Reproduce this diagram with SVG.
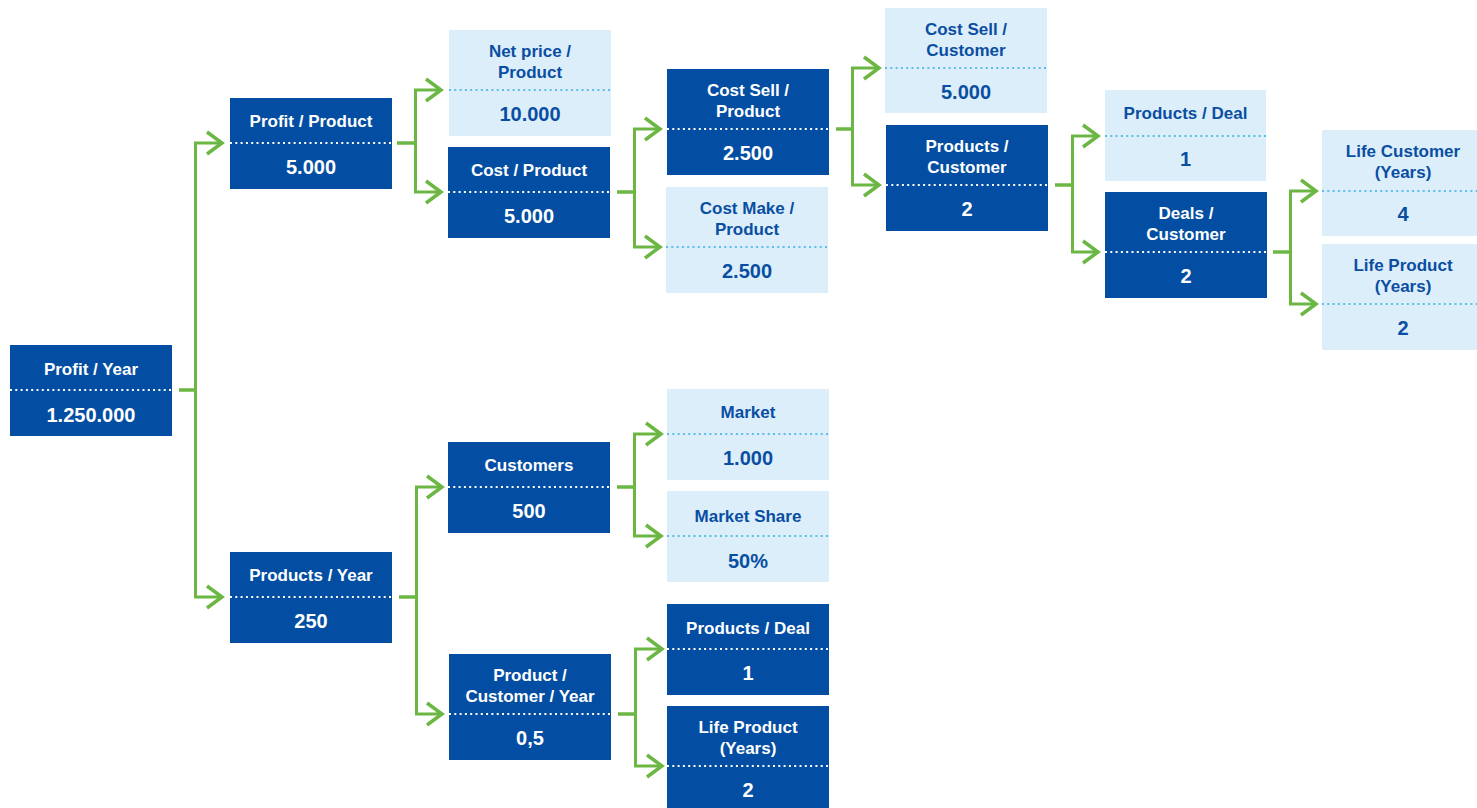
<svg xmlns="http://www.w3.org/2000/svg" width="1477" height="808" viewBox="0 0 1477 808">
<style>
.d rect{fill:#034ea2}
.l rect{fill:#ddeefb}
text{font-family:"Liberation Sans",Arial,sans-serif;font-weight:bold;text-anchor:middle}
.d text{fill:#ffffff}
.l text{fill:#0a4ea2}
.t{font-size:17px}
.v{font-size:20px}
.d line{stroke:#ffffff;stroke-width:2;stroke-dasharray:2 3.3}
.l line{stroke:#5bbde9;stroke-width:2;stroke-dasharray:2 3.3}
#connectors path{fill:none;stroke:#6cb744;stroke-width:3;stroke-linejoin:miter;marker-end:url(#arrow)}
</style>
<defs>
<marker id="arrow" markerUnits="userSpaceOnUse" markerWidth="22" markerHeight="30" refX="17" refY="14" orient="auto" overflow="visible">
<path d="M2,3 L17,14 L2,25" fill="none" stroke="#6cb744" stroke-width="3.5" stroke-linejoin="miter"/>
</marker>
</defs>
<rect width="1477" height="808" fill="#ffffff"/>
<g id="connectors">
<path d="M179,390 H195.5 V143 H222"/>
<path d="M179,390 H195.5 V597 H222"/>
<path d="M397,143 H415.5 V90 H441"/>
<path d="M397,143 H415.5 V192 H441"/>
<path d="M617,192 H634.5 V129 H660"/>
<path d="M617,192 H634.5 V247 H660"/>
<path d="M836,129 H852.5 V68 H879"/>
<path d="M836,129 H852.5 V185 H879"/>
<path d="M1055,185 H1072.5 V136 H1098"/>
<path d="M1055,185 H1072.5 V252 H1098"/>
<path d="M1273,252 H1290.5 V191 H1316"/>
<path d="M1273,252 H1290.5 V304 H1316"/>
<path d="M399,597 H416.5 V487 H442"/>
<path d="M399,597 H416.5 V714 H442"/>
<path d="M617,487 H634.5 V434 H661"/>
<path d="M617,487 H634.5 V536 H661"/>
<path d="M618,714 H635.5 V649 H662"/>
<path d="M618,714 H635.5 V766 H662"/>
</g>
<g id="profit-year" class="d">
<rect x="10" y="345" width="162" height="91"/>
<text class="t" x="91" y="375">Profit / Year</text>
<line x1="10" y1="390" x2="172" y2="390"/>
<text class="v" x="91" y="422">1.250.000</text>
</g>
<g id="profit-product" class="d">
<rect x="230" y="98" width="162" height="91"/>
<text class="t" x="311" y="127">Profit / Product</text>
<line x1="230" y1="143" x2="392" y2="143"/>
<text class="v" x="311" y="174">5.000</text>
</g>
<g id="net-price-product" class="l">
<rect x="449" y="30" width="162" height="106"/>
<text class="t" x="530" y="57">Net price /</text>
<text class="t" x="530" y="78">Product</text>
<line x1="449" y1="90" x2="611" y2="90"/>
<text class="v" x="530" y="121">10.000</text>
</g>
<g id="cost-product" class="d">
<rect x="448" y="147" width="162" height="91"/>
<text class="t" x="529" y="176">Cost / Product</text>
<line x1="448" y1="192" x2="610" y2="192"/>
<text class="v" x="529" y="223">5.000</text>
</g>
<g id="cost-sell-product" class="d">
<rect x="667" y="69" width="162" height="106"/>
<text class="t" x="748" y="96">Cost Sell /</text>
<text class="t" x="748" y="117">Product</text>
<line x1="667" y1="129" x2="829" y2="129"/>
<text class="v" x="748" y="160">2.500</text>
</g>
<g id="cost-make-product" class="l">
<rect x="666" y="187" width="162" height="106"/>
<text class="t" x="747" y="214">Cost Make /</text>
<text class="t" x="747" y="235">Product</text>
<line x1="666" y1="247" x2="828" y2="247"/>
<text class="v" x="747" y="278">2.500</text>
</g>
<g id="cost-sell-customer" class="l">
<rect x="885" y="8" width="162" height="105"/>
<text class="t" x="966" y="35">Cost Sell /</text>
<text class="t" x="966" y="56">Customer</text>
<line x1="885" y1="68" x2="1047" y2="68"/>
<text class="v" x="966" y="99">5.000</text>
</g>
<g id="products-customer" class="d">
<rect x="886" y="125" width="162" height="106"/>
<text class="t" x="967" y="152">Products /</text>
<text class="t" x="967" y="173">Customer</text>
<line x1="886" y1="185" x2="1048" y2="185"/>
<text class="v" x="967" y="216">2</text>
</g>
<g id="products-deal-top" class="l">
<rect x="1105" y="90" width="161" height="91"/>
<text class="t" x="1185.5" y="119">Products / Deal</text>
<line x1="1105" y1="136" x2="1266" y2="136"/>
<text class="v" x="1185.5" y="166">1</text>
</g>
<g id="deals-customer" class="d">
<rect x="1105" y="192" width="162" height="106"/>
<text class="t" x="1186" y="219">Deals /</text>
<text class="t" x="1186" y="240">Customer</text>
<line x1="1105" y1="252" x2="1267" y2="252"/>
<text class="v" x="1186" y="283">2</text>
</g>
<g id="life-customer" class="l">
<rect x="1322" y="130" width="162" height="106"/>
<text class="t" x="1403" y="157">Life Customer</text>
<text class="t" x="1403" y="178">(Years)</text>
<line x1="1322" y1="191" x2="1484" y2="191"/>
<text class="v" x="1403" y="221">4</text>
</g>
<g id="life-product-top" class="l">
<rect x="1322" y="244" width="162" height="106"/>
<text class="t" x="1403" y="271">Life Product</text>
<text class="t" x="1403" y="292">(Years)</text>
<line x1="1322" y1="304" x2="1484" y2="304"/>
<text class="v" x="1403" y="335">2</text>
</g>
<g id="products-year" class="d">
<rect x="230" y="552" width="162" height="91"/>
<text class="t" x="311" y="581">Products / Year</text>
<line x1="230" y1="597" x2="392" y2="597"/>
<text class="v" x="311" y="628">250</text>
</g>
<g id="customers" class="d">
<rect x="448" y="442" width="162" height="91"/>
<text class="t" x="529" y="471">Customers</text>
<line x1="448" y1="487" x2="610" y2="487"/>
<text class="v" x="529" y="518">500</text>
</g>
<g id="product-customer-year" class="d">
<rect x="449" y="654" width="162" height="106"/>
<text class="t" x="530" y="681">Product /</text>
<text class="t" x="530" y="702">Customer / Year</text>
<line x1="449" y1="714" x2="611" y2="714"/>
<text class="v" x="530" y="745">0,5</text>
</g>
<g id="market" class="l">
<rect x="667" y="389" width="162" height="91"/>
<text class="t" x="748" y="418">Market</text>
<line x1="667" y1="434" x2="829" y2="434"/>
<text class="v" x="748" y="465">1.000</text>
</g>
<g id="market-share" class="l">
<rect x="667" y="491" width="162" height="91"/>
<text class="t" x="748" y="522">Market Share</text>
<line x1="667" y1="536" x2="829" y2="536"/>
<text class="v" x="748" y="568">50%</text>
</g>
<g id="products-deal-bottom" class="d">
<rect x="667" y="604" width="162" height="91"/>
<text class="t" x="748" y="634">Products / Deal</text>
<line x1="667" y1="649" x2="829" y2="649"/>
<text class="v" x="748" y="680">1</text>
</g>
<g id="life-product-bottom" class="d">
<rect x="667" y="706" width="162" height="106"/>
<text class="t" x="748" y="733">Life Product</text>
<text class="t" x="748" y="754">(Years)</text>
<line x1="667" y1="766" x2="829" y2="766"/>
<text class="v" x="748" y="797">2</text>
</g>
</svg>
